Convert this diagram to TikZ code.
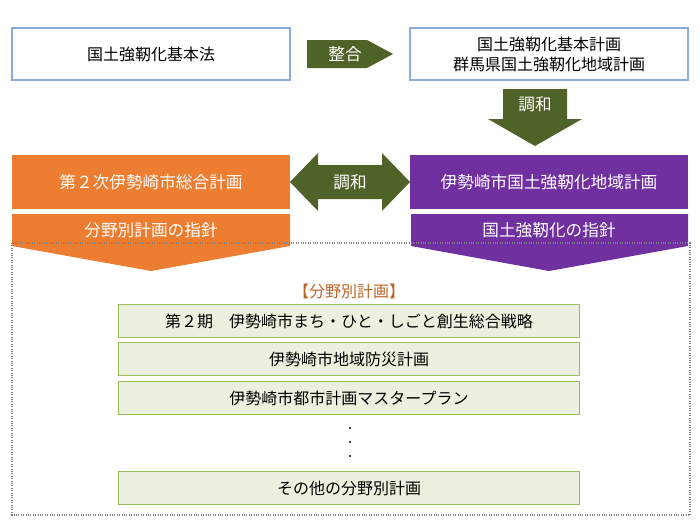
\documentclass[tikz,border=0pt]{standalone}
\usepackage{fontspec}
\setmainfont{Noto Sans CJK JP}
\usetikzlibrary{positioning}
\definecolor{olive}{HTML}{4F6228}
\definecolor{orangeA}{HTML}{ED7D31}
\definecolor{purpleA}{HTML}{7030A0}
\definecolor{greenfill}{HTML}{EBF1DE}
\definecolor{greenline}{HTML}{9BBB59}
\definecolor{blueline}{HTML}{8EA9DB}
\tikzset{
  law/.style={draw=blueline,line width=0.8pt,fill=white,minimum width=208.5pt,minimum height=39pt,align=center,font=\fontsize{12}{15}\selectfont},
  plan/.style={minimum width=208.5pt,minimum height=41pt,text=white,font=\fontsize{12.5}{15}\selectfont},
  field/.style={draw=greenline,fill=greenfill,line width=0.8pt,minimum width=346pt,minimum height=24.5pt,font=\fontsize{12}{15}\selectfont},
  white/.style={text=white,font=\fontsize{12.5}{15}\selectfont}
}
\begin{document}
\begin{tikzpicture}[x=0.75pt,y=-0.75pt]
\useasboundingbox (0,0) rectangle (700,525);
% top row
\node[law] (kihonho) at (151,54) {国土強靭化基本法};
\node[law] (kihonkeikaku) at (549,54) {国土強靭化基本計画\\群馬県国土強靭化地域計画};
\fill[olive] (307,40) -- (367,40) -- (393,54) -- (367,68) -- (307,68) -- cycle;
\node[white] (seigo) at (345,54) {整合};
% down arrow
\fill[olive] (503,89) -- (567,89) -- (567,119) -- (582,119) -- (535,146) -- (488,119) -- (503,119) -- cycle;
\node[white] (chowa1) at (535,104) {調和};
% second row
\node[plan,fill=orangeA] (sogo) at (151,182) {第２次伊勢崎市総合計画};
\node[plan,fill=purpleA] (chiiki) at (549,182) {伊勢崎市国土強靭化地域計画};
\fill[olive] (290,182) -- (318,153) -- (318,165) -- (382,165) -- (382,153) -- (410,182) -- (382,211) -- (382,199) -- (318,199) -- (318,211) -- cycle;
\node[white] (chowa2) at (350,182) {調和};
% guidelines
\fill[orangeA] (12,214) -- (290,214) -- (290,246) -- (151,271) -- (12,246) -- cycle;
\node[white] (shishin1) at (151,230) {分野別計画の指針};
\fill[purpleA] (411,214) -- (688,214) -- (688,246) -- (549,271) -- (411,246) -- cycle;
\node[white] (shishin2) at (549,230) {国土強靭化の指針};
% field plans
\draw[gray,densely dotted,line width=0.8pt] (12,243) rectangle (690,515);
\node[text=orangeA!80!black,font=\fontsize{12}{15}\selectfont] (bunya) at (349,291) {【分野別計画】};
\node[field] (senryaku) at (349,321) {第２期　伊勢崎市まち・ひと・しごと創生総合戦略};
\node[field] (bosai) at (349,359) {伊勢崎市地域防災計画};
\node[field] (toshi) at (349,398) {伊勢崎市都市計画マスタープラン};
\node[field] (sonota) at (349,488) {その他の分野別計画};
\foreach \y in {428,442,456}
  \fill (350,\y) circle (1.2);
\end{tikzpicture}
\end{document}
